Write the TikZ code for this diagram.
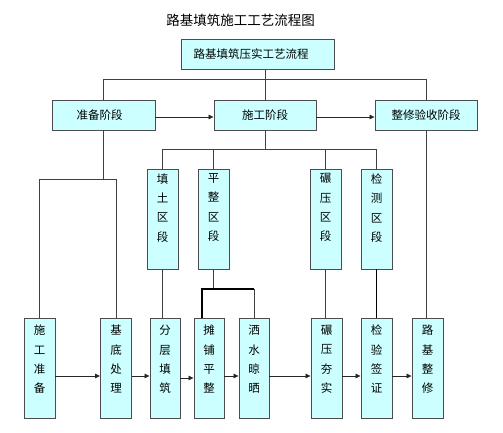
\documentclass[tikz,border=0pt]{standalone}
\usepackage{fontspec}
\newfontfamily\cjk{Noto Sans CJK SC}
\usetikzlibrary{arrows.meta}
\definecolor{cyanbg}{HTML}{CCFFFF}
\begin{document}
\begin{tikzpicture}[x=1pt,y=-1pt,
  box/.style={draw=black!70, fill=cyanbg, line width=0.9pt, inner sep=0pt, font=\cjk\fontsize{11.5}{14}\selectfont},
  hbox/.style={box, minimum height=30},
  vbox/.style={box, minimum width=31, minimum height=100},
  vtext/.style={anchor=north, inner sep=0pt, align=center, font=\cjk\fontsize{11.5}{19.3}\selectfont},
  conn/.style={draw=black!75, line width=0.7pt},
  thick conn/.style={draw=black, line width=1.1pt},
  arr/.style={draw=black!85, line width=0.7pt, -{Triangle[length=5pt,width=4.5pt]}}
]
\useasboundingbox (0,0) rectangle (503,433);
\node[font=\cjk\fontsize{13.5}{16}\selectfont] (title) at (240.5,20) {路基填筑施工工艺流程图};
\node[hbox, minimum width=153] (top) at (258,54) {\hspace*{-14pt}路基填筑压实工艺流程};
\node[hbox, minimum width=103] (s1) at (103.5,115) {\hspace*{-8pt}准备阶段};
\node[hbox, minimum width=102] (s2) at (265,115) {施工阶段};
\node[hbox, minimum width=102] (s3) at (426,115) {整修验收阶段};
% upper vertical boxes
\node[vbox, label={[vtext, yshift=-5]north:填\\土\\区\\段}] (u1) at (162.5,219) {};
\node[vbox, label={[vtext, yshift=-5]north:平\\整\\区\\段}] (u2) at (213.5,219) {};
\node[vbox, label={[vtext, yshift=-5]north:碾\\压\\区\\段}] (u3) at (325.5,219) {};
\node[vbox, label={[vtext, yshift=-5]north:检\\测\\区\\段}] (u4) at (376.5,219) {};
% bottom boxes
\node[vbox, label={[vtext, yshift=-7]north:施\\工\\准\\备}] (b1) at (39.5,368.5) {};
\node[vbox, label={[vtext, yshift=-7]north:基\\底\\处\\理}] (b2) at (116,368.5) {};
\node[vbox, minimum width=30, label={[vtext, yshift=-7]north:分\\层\\填\\筑}] (b3) at (165,368.5) {};
\node[vbox, minimum width=30, label={[vtext, yshift=-7]north:摊\\铺\\平\\整}] (b4) at (209,368.5) {};
\node[vbox, minimum width=30, label={[vtext, yshift=-7]north:洒\\水\\晾\\晒}] (b5) at (254,368.5) {};
\node[vbox, label={[vtext, yshift=-7]north:碾\\压\\夯\\实}] (b6) at (326.5,368.5) {};
\node[vbox, label={[vtext, yshift=-7]north:检\\验\\签\\证}] (b7) at (376.5,368.5) {};
\node[vbox, label={[vtext, yshift=-7]north:路\\基\\整\\修}] (b8) at (427.5,368.5) {};
% helper levels
\coordinate (y79) at (0,79);
\coordinate (y149) at (0,149);
\coordinate (y179) at (0,179);
\coordinate (y289) at (0,289);
% top tree
\draw[conn] (s2.north) -- (s2.north |- top.south);
\draw[conn] (s1.north) |- (s3.north |- y79) -- (s3.north);
% stage arrows
\draw[arr] ([yshift=-2]s1.east) -- ([yshift=-2]s2.west);
\draw[arr] ([yshift=-2]s2.east) -- ([yshift=-2]s3.west);
% preparation branch
\draw[conn] (s1.south) -- (s1.south |- y179);
\draw[conn] (b1.north) |- (b2.north |- y179) -- (b2.north);
% construction branch
\draw[conn] (s2.south) -- (s2.south |- y149);
\draw[conn] (u1.north) |- (u4.north |- y149) -- (u4.north);
\draw[conn] (u2.north) -- (u2.north |- y149);
\draw[conn] (u3.north) -- (u3.north |- y149);
% acceptance branch
\draw[conn] (s3.south) -- (s3.south |- b8.north);
% upper boxes to bottom boxes
\draw[conn] (u1.south) -- (u1.south |- b3.north);
\draw[conn] (u2.south) -- (u2.south |- y289);
\draw[thick conn] ([xshift=-7]b4.north) |- (b5.north |- y289);
\draw[conn] (b5.north |- y289) -- (b5.north);
\draw[conn] (u3.south) -- (u3.south |- b6.north);
\draw[thick conn] (u4.south) -- (b7.north);
% bottom arrows
\draw[arr] ([yshift=-7.5]b1.east) -- ([yshift=-7.5]b2.west);
\draw[arr] ([yshift=-7.5]b2.east) -- ([yshift=-7.5]b3.west);
\draw[arr] ([yshift=-9.5]b3.east) -- ([yshift=-9.5]b4.west);
\draw[arr] ([yshift=-7.5]b4.east) -- ([yshift=-7.5]b5.west);
\draw[arr] ([yshift=-7.5]b5.east) -- ([yshift=-7.5]b6.west);
\draw[arr] ([yshift=-7.5]b6.east) -- ([yshift=-7.5]b7.west);
\draw[arr] ([yshift=-7.5]b7.east) -- ([yshift=-7.5]b8.west);
\end{tikzpicture}
\end{document}
